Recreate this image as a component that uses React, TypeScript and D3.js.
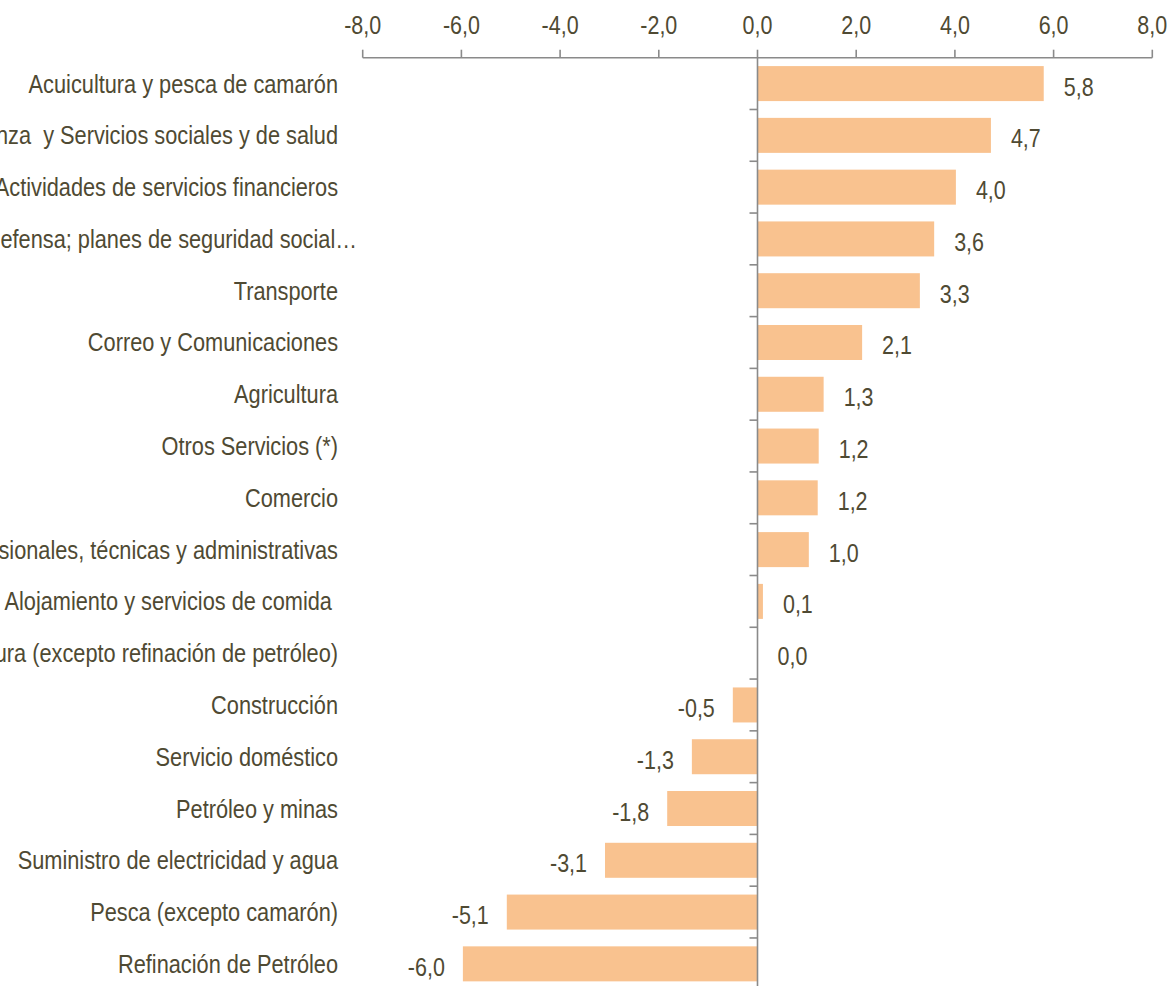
import React from "react";
import * as d3 from "d3";

const categories: string[] = [
  "Acuicultura y pesca de camarón",
  "Enseñanza  y Servicios sociales y de salud",
  "Actividades de servicios financieros",
  "Administración pública y defensa; planes de seguridad social…",
  "Transporte",
  "Correo y Comunicaciones",
  "Agricultura",
  "Otros Servicios (*)",
  "Comercio",
  "Actividades profesionales, técnicas y administrativas",
  "Alojamiento y servicios de comida ",
  "Manufactura (excepto refinación de petróleo)",
  "Construcción",
  "Servicio doméstico",
  "Petróleo y minas",
  "Suministro de electricidad y agua",
  "Pesca (excepto camarón)",
  "Refinación de Petróleo",
];

const values: number[] = [
  5.8, 4.73, 4.02, 3.58, 3.29, 2.12, 1.34, 1.24, 1.22, 1.04, 0.11, 0.0, -0.5,
  -1.33, -1.83, -3.09, -5.08, -5.97,
];

const xTicks: number[] = [-8, -6, -4, -2, 0, 2, 4, 6, 8];

const W = 1170;
const H = 986;
const TEXT = "#4f4a33";
const BAR = "#f9c28f";
const AXIS = "#8a8a8a";
const FONT = "'Liberation Sans', Arial, sans-serif";
const SX_CAT = 0.87;
const SX_NUM = 0.86;
const LABEL_RIGHT = 338;
const ELLIPSIS_OVERHANG = 19;

const locale = d3.formatLocale({
  decimal: ",",
  thousands: ".",
  grouping: [3],
  currency: ["", ""],
  minus: "-",
});
const fmt = locale.format(".1f");

function T(props: {
  x: number;
  y: number;
  sx: number;
  anchor: "start" | "middle" | "end";
  children: React.ReactNode;
}) {
  return (
    <text
      transform={`translate(${props.x},${props.y}) scale(${props.sx},1)`}
      textAnchor={props.anchor}
      fontSize={25}
      fill={TEXT}
      style={{ whiteSpace: "pre" }}
    >
      {props.children}
    </text>
  );
}

export default function App() {
  const x = d3.scaleLinear().domain([-8, 8]).range([362.7, 1152.3]);
  const axisY = 57.7;
  const step = 51.78;
  const y = d3
    .scaleBand<string>()
    .domain(categories)
    .range([axisY, axisY + step * categories.length])
    .paddingInner(0.324)
    .paddingOuter(0.162);
  const x0 = x(0);
  const band = d3
    .scaleBand<string>()
    .domain(categories)
    .range([axisY, axisY + step * categories.length]);

  return (
    <svg
      width={W}
      height={H}
      style={{ position: "absolute", left: 0, top: 0, background: "#fff" }}
      fontFamily={FONT}
    >
      {categories.map((c, i) => {
        const v = values[i];
        const bx = Math.min(x(v), x0);
        const bw = Math.abs(x(v) - x0);
        return (
          <rect
            key={"b" + i}
            x={bx}
            y={y(c)}
            width={bw}
            height={y.bandwidth()}
            fill={BAR}
          />
        );
      })}

      <line x1={x(-8)} x2={x(8)} y1={axisY} y2={axisY} stroke={AXIS} strokeWidth={1.6} />
      {xTicks.map((t) => (
        <g key={"t" + t}>
          <line x1={x(t)} x2={x(t)} y1={axisY} y2={axisY - 8} stroke={AXIS} strokeWidth={1.6} />
          <T x={x(t)} y={34} sx={SX_NUM} anchor="middle">
            {fmt(t)}
          </T>
        </g>
      ))}

      <line x1={x0} x2={x0} y1={axisY} y2={H} stroke={AXIS} strokeWidth={1.6} />
      {categories.map((c, i) => (
        <line
          key={"yt" + i}
          x1={x0 - 8}
          x2={x0}
          y1={(band(c) as number) + step}
          y2={(band(c) as number) + step}
          stroke={AXIS}
          strokeWidth={1.6}
        />
      ))}

      {categories.map((c, i) => (
        <T
          key={"c" + i}
          x={c.endsWith("…") ? LABEL_RIGHT + ELLIPSIS_OVERHANG : LABEL_RIGHT}
          y={(band(c) as number) + step / 2 + 9}
          sx={SX_CAT}
          anchor="end"
        >
          {c}
        </T>
      ))}

      {categories.map((c, i) => {
        const v = values[i];
        const pos = v >= 0;
        return (
          <T
            key={"v" + i}
            x={pos ? x(v) + 20 : x(v) - 18}
            y={(band(c) as number) + step / 2 + 12}
            sx={SX_NUM}
            anchor={pos ? "start" : "end"}
          >
            {fmt(v)}
          </T>
        );
      })}
    </svg>
  );
}
